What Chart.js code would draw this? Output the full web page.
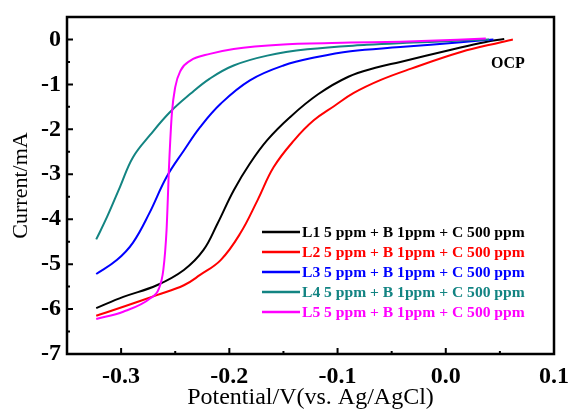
<!DOCTYPE html>
<html>
<head>
<meta charset="utf-8">
<script src="https://cdn.jsdelivr.net/npm/chart.js@4"></script>
<style>
  html, body { margin: 0; padding: 0; background: #fff; }
  #wrap { width: 570px; height: 412px; }
</style>
</head>
<body>
<div id="wrap">
    <canvas id="lsv" width="570" height="412"></canvas>
</div>

<script>
    // polarisation curves, potential (V vs Ag/AgCl) and current (mA)
    const seriesNames = [
        'L1 5 ppm + B 1ppm + C 500 ppm',
        'L2 5 ppm + B 1ppm + C 500 ppm',
        'L3 5 ppm + B 1ppm + C 500 ppm',
        'L4 5 ppm + B 1ppm + C 500 ppm',
        'L5 5 ppm + B 1ppm + C 500 ppm'
    ];
    const seriesColors = ['#000000', '#ff0000', '#0000ff', '#138482', '#ff00ff'];

    const l1V = [-0.323, -0.298, -0.267, -0.242, -0.224, -0.211, -0.196, -0.181, -0.165, -0.144, -0.118, -0.090, -0.065, -0.042, 0.005, 0.036, 0.054];
    const l1I = [-5.98, -5.73, -5.47, -5.13, -4.69, -4.10, -3.36, -2.76, -2.24, -1.73, -1.22, -0.83, -0.63, -0.50, -0.23, -0.06, 0.01];

    const l2V = [-0.323, -0.298, -0.267, -0.242, -0.227, -0.208, -0.190, -0.174, -0.159, -0.140, -0.122, -0.103, -0.085, -0.060, -0.032, 0.014, 0.051, 0.062];
    const l2I = [-6.15, -5.95, -5.69, -5.47, -5.24, -4.91, -4.32, -3.58, -2.84, -2.24, -1.80, -1.48, -1.19, -0.90, -0.65, -0.28, -0.06, 0.00];

    const l3V = [-0.323, -0.304, -0.289, -0.274, -0.258, -0.242, -0.227, -0.208, -0.181, -0.150, -0.119, -0.088, -0.042, 0.014, 0.044];
    const l3I = [-5.22, -4.91, -4.52, -3.87, -3.06, -2.47, -1.95, -1.43, -0.91, -0.58, -0.39, -0.26, -0.17, -0.06, 0.00];

    const l4V = [-0.323, -0.313, -0.301, -0.289, -0.273, -0.255, -0.236, -0.218, -0.196, -0.165, -0.128, -0.073, -0.030, 0.000, 0.040];
    const l4I = [-4.45, -3.95, -3.28, -2.62, -2.12, -1.62, -1.21, -0.87, -0.58, -0.36, -0.22, -0.12, -0.07, -0.04, 0.00];

    const l5V = [-0.323, -0.298, -0.273, -0.265, -0.261, -0.258, -0.2556, -0.2531, -0.250, -0.245, -0.236, -0.218, -0.196, -0.150, -0.088, -0.042, 0.037];
    const l5I = [-6.22, -6.06, -5.76, -5.54, -5.13, -4.24, -2.76, -1.65, -1.06, -0.69, -0.47, -0.32, -0.21, -0.11, -0.07, -0.05, 0.02];

    const xTicks = [-0.3, -0.2, -0.1, 0.0, 0.1];
    const xMinor = [-0.35, -0.25, -0.15, -0.05, 0.05];
    const yTicks = [-7, -6, -5, -4, -3, -2, -1, 0];
    const yMinor = [-6.5, -5.5, -4.5, -3.5, -2.5, -1.5, -0.5];

    const allV = [l1V, l2V, l3V, l4V, l5V];
    const allI = [l1I, l2I, l3I, l4I, l5I];

    const serif = '"Liberation Serif", "Times New Roman", serif';

    // frame, inward ticks, OCP note and the legend
    const decorations = {
        id: 'decorations',
        afterDraw(chart) {
            const ctx = chart.ctx;
            const a = chart.chartArea;
            const xs = chart.scales.x;
            const ys = chart.scales.y;
            ctx.save();
            ctx.strokeStyle = '#000';
            ctx.lineWidth = 2.5;
            ctx.strokeRect(a.left, a.top, a.right - a.left, a.bottom - a.top);

            ctx.lineWidth = 2;
            ctx.beginPath();
            xTicks.forEach(v => {
                const px = xs.getPixelForValue(v);
                ctx.moveTo(px, a.bottom); ctx.lineTo(px, a.bottom - 6);
            });
            xMinor.forEach(v => {
                const px = xs.getPixelForValue(v);
                ctx.moveTo(px, a.bottom); ctx.lineTo(px, a.bottom - 3);
            });
            yTicks.forEach(v => {
                const py = ys.getPixelForValue(v);
                ctx.moveTo(a.left, py); ctx.lineTo(a.left + 6, py);
            });
            yMinor.forEach(v => {
                const py = ys.getPixelForValue(v);
                ctx.moveTo(a.left, py); ctx.lineTo(a.left + 3, py);
            });
            ctx.stroke();

            ctx.fillStyle = '#000';
            ctx.font = 'bold 16px ' + serif;
            ctx.textAlign = 'center';
            ctx.textBaseline = 'middle';
            ctx.fillText('OCP', 508, 64);

            ctx.textAlign = 'left';
            ctx.font = 'bold 15.6px ' + serif;
            seriesNames.forEach((name, i) => {
                const y = 232 + i * 20;
                ctx.strokeStyle = seriesColors[i];
                ctx.lineWidth = 2.5;
                ctx.beginPath();
                ctx.moveTo(262, y); ctx.lineTo(300, y);
                ctx.stroke();
                ctx.fillStyle = seriesColors[i];
                ctx.fillText(name, 302, y + 1);
            });
            ctx.restore();
        }
    };

    document.addEventListener('DOMContentLoaded', function() {
        const ctx = document.getElementById('lsv').getContext('2d');

        const chart = new Chart(ctx, {
            type: 'line',
            data: {
                datasets: seriesNames.map((name, i) => ({
                    label: name,
                    data: allV[i].map((v, k) => ({ x: v, y: allI[i][k] })),
                    borderColor: seriesColors[i],
                    borderWidth: 2,
                    pointRadius: 0,
                    // the L5 step is too sharp for a plain spline, keep it monotone
                    tension: 0.4,
                    cubicInterpolationMode: i === 4 ? 'monotone' : 'default',
                    fill: false,
                    order: 5 - i
                }))
            },
            options: {
                responsive: false,
                animation: false,
                devicePixelRatio: 1,
                layout: { padding: { left: 0, right: 16, top: 17, bottom: 0 } },
                plugins: {
                    legend: { display: false },
                    tooltip: { enabled: false }
                },
                scales: {
                    x: {
                        type: 'linear',
                        min: -0.35,
                        max: 0.1,
                        afterBuildTicks: s => { s.ticks = xTicks.map(v => ({ value: v })); },
                        afterFit: s => { s.height = 58; s.paddingLeft = 0; s.paddingRight = 0; },
                        grid: { display: false, drawTicks: false },
                        border: { display: false },
                        ticks: {
                            color: '#000',
                            padding: 8,
                            maxRotation: 0,
                            font: { family: serif, size: 24, weight: 'bold' },
                            callback: v => v.toFixed(1)
                        },
                        title: {
                            display: true,
                            text: 'Potential/V(vs. Ag/AgCl)',
                            color: '#000',
                            padding: { top: 0, bottom: 0 },
                            font: { family: serif, size: 24 }
                        }
                    },
                    y: {
                        type: 'linear',
                        min: -7,
                        max: 0.5,
                        afterBuildTicks: s => { s.ticks = yTicks.map(v => ({ value: v })); },
                        afterFit: s => { s.width = 67; s.paddingTop = 0; s.paddingBottom = 0; },
                        grid: { display: false, drawTicks: false },
                        border: { display: false },
                        ticks: {
                            color: '#000',
                            padding: 6,
                            font: { family: serif, size: 24, weight: 'bold' },
                            callback: v => String(v)
                        },
                        title: {
                            display: true,
                            text: 'Current/mA',
                            color: '#000',
                            padding: { top: 8, bottom: 0 },
                            font: { family: serif, size: 22 }
                        }
                    }
                }
            },
            plugins: [decorations]
        });
    });
</script>
</body>
</html>
